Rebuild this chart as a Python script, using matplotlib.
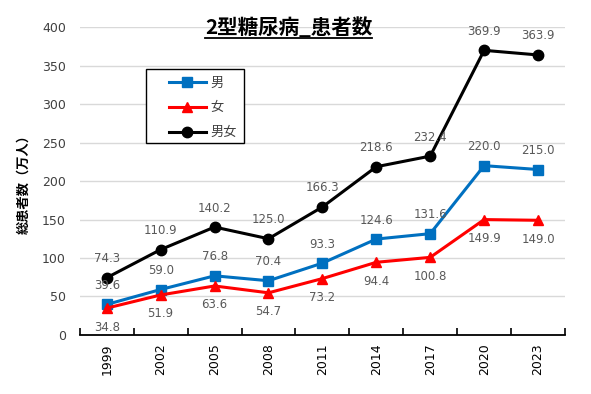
import matplotlib
matplotlib.use("Agg")
import matplotlib.pyplot as plt
from matplotlib.lines import Line2D
from matplotlib.patches import Rectangle

plt.rcParams['font.family'] = ['Noto Sans CJK JP', 'DejaVu Sans']

years = ["1999", "2002", "2005", "2008", "2011", "2014", "2017", "2020", "2023"]
male = [39.6, 59.0, 76.8, 70.4, 93.3, 124.6, 131.6, 220.0, 215.0]
female = [34.8, 51.9, 63.6, 54.7, 73.2, 94.4, 100.8, 149.9, 149.0]
total = [74.3, 110.9, 140.2, 125.0, 166.3, 218.6, 232.4, 369.9, 363.9]
yticks = [0, 50, 100, 150, 200, 250, 300, 350, 400]

fig = plt.figure(figsize=(5.91, 3.94), dpi=100)
ax = fig.add_axes([0.135, 0.150, 0.821, 0.781])

x = list(range(len(years)))
ax.plot(x, male, color='#0070C0', lw=2.2, marker='s', ms=7.5, label='男', zorder=3)
ax.plot(x, female, color='#FF0000', lw=2.2, marker='^', ms=7.5, label='女', zorder=3)
ax.plot(x, total, color='black', lw=2.2, marker='o', ms=7.5, label='男女', zorder=3)

lab_col = '#595959'
for i in x:
    ax.annotate(f"{total[i]:.1f}", (i, total[i]), xytext=(0, 9), textcoords='offset points',
                ha='center', va='bottom', fontsize=8.5, color=lab_col, family='DejaVu Sans')
    ax.annotate(f"{male[i]:.1f}", (i, male[i]), xytext=(0, 9), textcoords='offset points',
                ha='center', va='bottom', fontsize=8.5, color=lab_col, family='DejaVu Sans')
    ax.annotate(f"{female[i]:.1f}", (i, female[i]), xytext=(0, -9), textcoords='offset points',
                ha='center', va='top', fontsize=8.5, color=lab_col, family='DejaVu Sans')

ax.set_xlim(-0.5, len(years) - 0.5)
ax.set_ylim(0, 400)
ax.set_yticks(yticks)
ax.set_yticklabels([str(v) for v in yticks], fontsize=9, color='#404040', family='DejaVu Sans')
ax.tick_params(axis='y', length=0, pad=10)
ax.set_xticks(x)
ax.set_xticklabels(years, rotation=90, fontsize=9, color='black', family='DejaVu Sans')
ax.tick_params(axis='x', length=0, pad=6)
ax.set_xticks([i - 0.5 for i in range(len(years) + 1)], minor=True)
ax.tick_params(axis='x', which='minor', length=5, width=1.2, color='black', direction='in')
ax.grid(axis='y', color='#D9D9D9', lw=1)
ax.set_axisbelow(True)
for s in ['top', 'right', 'left']:
    ax.spines[s].set_visible(False)
ax.spines['bottom'].set_color('black')
ax.spines['bottom'].set_linewidth(1.3)

ax.set_ylabel('総患者数（万人）', fontsize=9.5, fontweight='bold', color='black', labelpad=8)

# legend frame drawn separately for asymmetric padding
frame = Rectangle((0.247, 0.637), 0.166, 0.188, transform=fig.transFigure,
                  facecolor='white', edgecolor='black', lw=1.0, zorder=4, clip_on=False)
ax.add_artist(frame)
leg = ax.legend(loc='upper left', bbox_to_anchor=(0.286, 0.806), bbox_transform=fig.transFigure,
                frameon=False, fontsize=9.5, handlelength=2.8, labelspacing=0.9,
                borderpad=0, handletextpad=0.3, borderaxespad=0)
leg.set_zorder(5)
for t in leg.get_texts():
    t.set_color('#404040')

title = fig.text(0.488, 0.929, '2型糖尿病_患者数', ha='center', va='center', fontsize=14.8,
                 fontweight='bold', color='black')
fig.canvas.draw()
bb = title.get_window_extent().transformed(fig.transFigure.inverted())
fig.add_artist(Line2D([bb.x0, bb.x1], [bb.y0 + 0.002, bb.y0 + 0.002], color='black', lw=1.3,
                      transform=fig.transFigure))

fig.savefig('out.png', dpi=100)
